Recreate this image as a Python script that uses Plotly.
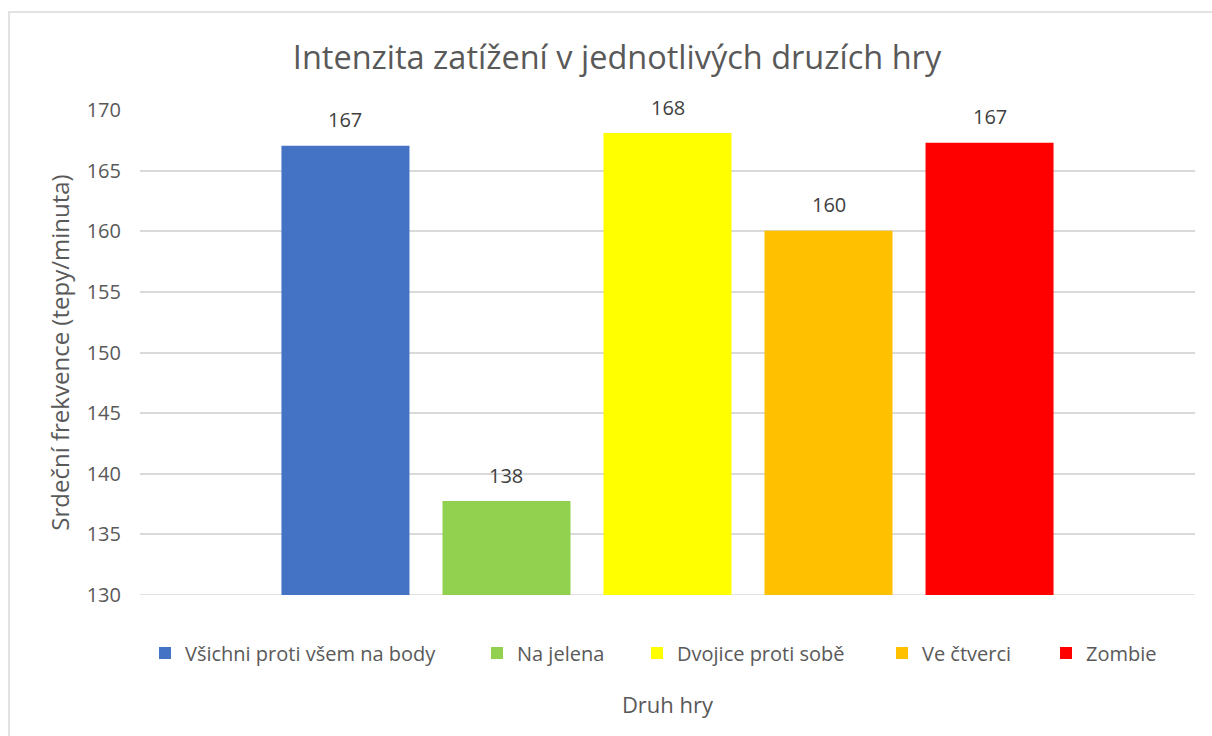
import plotly.graph_objects as go

series_names = ["Všichni proti všem na body", "Na jelena", "Dvojice proti sobě", "Ve čtverci", "Zombie"]
series_values = [167.05, 137.75, 168.1, 160.05, 167.3]
series_colors = ["#4472C4", "#92D050", "#FFFF00", "#FFC000", "#FF0000"]
y_ticks = [130, 135, 140, 145, 150, 155, 160, 165, 170]

FONT = "Open Sans"
GREY = "#595959"

W, H = 1212, 736
L, R, T, B = 140, 17, 110, 141
pw, ph = W - L - R, H - T - B

def px_x(x):
    return (x - L) / pw

def px_y(y):
    return (H - B - y) / ph

# left edges (px) of legend boxes (swatch minus plotly's internal offset)
legend_left_px = [145, 477, 637, 882, 1046]

fig = go.Figure()
legend_layouts = {}
for i, (name, val, col) in enumerate(zip(series_names, series_values, series_colors)):
    lname = "legend" if i == 0 else f"legend{i + 1}"
    fig.add_trace(go.Bar(
        x=[i], y=[val], name=name, width=0.795,
        marker=dict(color=col, line=dict(width=0)),
        legend=lname,
        hovertemplate=f"{name}: %{{y}}<extra></extra>",
    ))
    fig.add_annotation(x=i, y=val, xref="x", yref="y", text=f"{val:.0f}",
                       showarrow=False, yshift=26, yanchor="middle",
                       font=dict(family=FONT, size=20, color="#404040"))
    legend_layouts[lname] = dict(
        orientation="h", x=px_x(legend_left_px[i]), xanchor="left",
        y=px_y(653), yanchor="middle",
        font=dict(family=FONT, size=20, color=GREY),
        itemwidth=30, itemclick=False, bgcolor="rgba(0,0,0,0)",
    )

fig.update_layout(
    width=W, height=H,
    margin=dict(l=L, r=R, t=T, b=B),
    paper_bgcolor="white", plot_bgcolor="white",
    title=dict(text="Intenzita zatížení v jednotlivých druzích hry",
               x=617 / W, xanchor="center", y=1 - 58 / H, yanchor="middle",
               font=dict(family=FONT, size=32.5, color=GREY)),
    font=dict(family=FONT, color=GREY),
    showlegend=True,
    xaxis=dict(range=[-1.276, 5.276], showticklabels=False, showgrid=False, showline=False,
               zeroline=False, ticks="",
               title=dict(text="Druh hry", font=dict(family=FONT, size=22, color=GREY), standoff=102)),
    yaxis=dict(range=[130, 170], tickvals=y_ticks, showgrid=True, gridcolor="#D9D9D9", gridwidth=1.5,
               zeroline=False, showline=False, ticks="", ticklabelstandoff=18,
               tickfont=dict(family=FONT, size=20, color=GREY),
               title=dict(text="Srdeční frekvence (tepy/minuta)", font=dict(family=FONT, size=24, color=GREY), standoff=10)),
    shapes=[
        dict(type="rect", xref="paper", yref="paper",
             x0=px_x(9), x1=px_x(1230), y0=px_y(760), y1=px_y(12),
             line=dict(color="#D9D9D9", width=1.5), fillcolor="rgba(0,0,0,0)", layer="below"),
        dict(type="line", xref="paper", yref="y", x0=0, x1=1, y0=130, y1=130,
             line=dict(color="#D9D9D9", width=1.5), layer="below"),
    ],
    **legend_layouts,
)

fig.write_html("out.html", config={"displayModeBar": False},
               post_script="document.body.style.margin='0';")
